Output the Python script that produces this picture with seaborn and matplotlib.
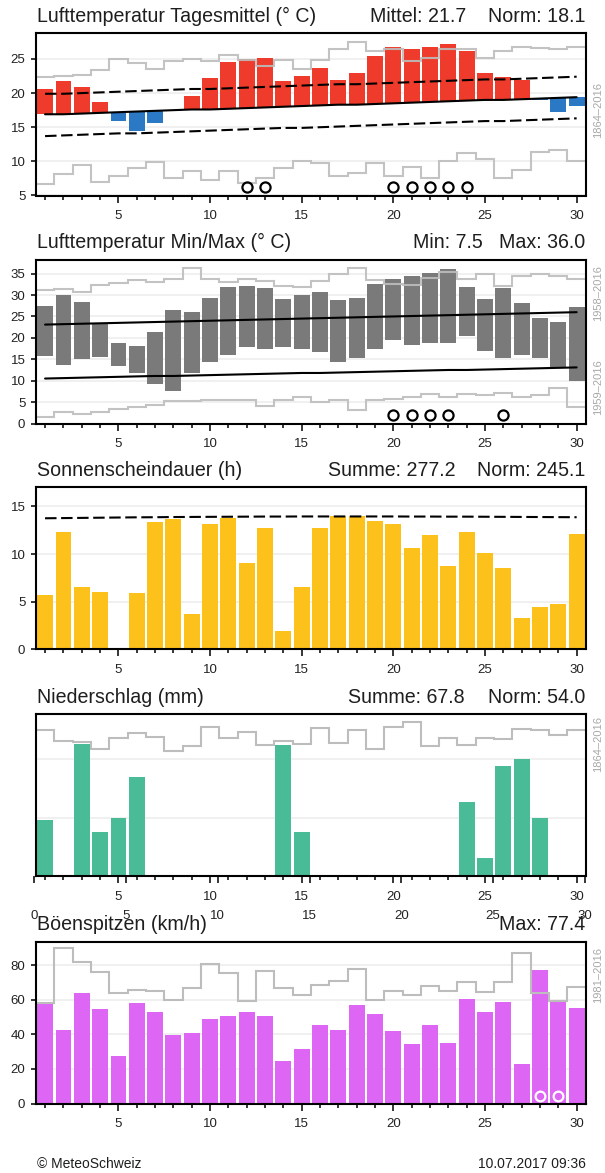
import numpy as np
import matplotlib.pyplot as plt
import seaborn as sns

# ------------------------------
# Data (June, daily values)
# ------------------------------
days = list(range(1, 31))

# Lufttemperatur Tagesmittel
t_mean = [20.6, 21.7, 20.9, 18.7, 15.9, 14.5, 15.6, 17.35, 19.5, 22.2,
          24.6, 25.0, 25.1, 21.8, 22.5, 23.7, 21.9, 22.9, 25.4, 26.7,
          26.5, 26.7, 27.2, 26.2, 22.9, 22.4, 21.9, 19.0, 17.3, 18.1]
t_norm = [16.9, 16.9, 17.0, 17.1, 17.2, 17.3, 17.4, 17.5, 17.6, 17.6,
          17.7, 17.8, 17.9, 18.0, 18.1, 18.2, 18.3, 18.3, 18.4, 18.5,
          18.6, 18.7, 18.8, 18.9, 19.0, 19.0, 19.1, 19.2, 19.3, 19.4]
t_norm_hi = [19.9, 19.9, 20.0, 20.1, 20.2, 20.3, 20.4, 20.5, 20.6, 20.6,
             20.7, 20.8, 20.9, 21.0, 21.1, 21.2, 21.3, 21.3, 21.4, 21.5,
             21.6, 21.7, 21.8, 21.9, 22.0, 22.0, 22.1, 22.2, 22.3, 22.4]
t_norm_lo = [13.7, 13.8, 13.9, 14.0, 14.1, 14.1, 14.2, 14.3, 14.4, 14.5,
             14.6, 14.7, 14.8, 14.9, 14.9, 15.0, 15.1, 15.2, 15.3, 15.4,
             15.5, 15.6, 15.7, 15.8, 15.9, 15.9, 16.0, 16.1, 16.2, 16.3]
t_rec_hi = [22.4, 22.5, 22.7, 23.4, 25.0, 24.4, 23.6, 24.7, 25.0, 24.7,
            25.6, 24.9, 24.0, 24.9, 23.6, 24.9, 26.4, 27.5, 26.1, 26.4,
            24.7, 25.1, 26.5, 26.4, 25.2, 26.2, 26.8, 26.6, 26.4, 26.7]
t_rec_lo = [6.7, 8.2, 9.4, 7.0, 7.9, 9.0, 9.9, 7.5, 8.6, 7.3,
            8.6, 6.9, 7.5, 9.1, 10.0, 9.8, 7.8, 8.3, 9.8, 7.9,
            9.2, 7.6, 10.0, 11.2, 10.3, 7.6, 8.7, 11.4, 11.6, 10.0]
t_mark_days = [12, 13, 20, 21, 22, 23, 24]

# Lufttemperatur Min/Max
t_max = [27.4, 29.9, 28.4, 23.3, 18.7, 18.1, 21.4, 26.4, 26.0, 29.4,
         31.8, 32.0, 31.7, 29.0, 30.1, 30.6, 28.9, 29.3, 32.6, 33.8,
         34.4, 35.1, 36.0, 31.8, 29.0, 31.6, 28.1, 24.6, 23.7, 27.1]
t_min = [15.8, 13.6, 15.0, 15.5, 13.4, 11.7, 9.3, 7.5, 11.7, 14.4,
         15.9, 17.9, 17.3, 17.9, 17.5, 16.7, 14.4, 15.2, 17.5, 19.4,
         18.4, 18.7, 18.9, 20.4, 17.0, 15.2, 16.1, 15.2, 13.2, 9.9]
tmax_norm = [23.1, 23.2, 23.3, 23.4, 23.5, 23.6, 23.7, 23.8, 23.9, 24.0,
             24.1, 24.2, 24.3, 24.4, 24.5, 24.6, 24.7, 24.8, 24.9, 25.0,
             25.1, 25.2, 25.3, 25.4, 25.5, 25.6, 25.7, 25.8, 25.9, 26.0]
tmin_norm = [10.5, 10.6, 10.7, 10.8, 10.9, 11.0, 11.1, 11.1, 11.2, 11.3,
             11.4, 11.5, 11.6, 11.7, 11.8, 11.8, 11.9, 12.0, 12.1, 12.2,
             12.3, 12.4, 12.5, 12.5, 12.6, 12.7, 12.8, 12.9, 13.0, 13.1]
tmax_rec = [31.1, 31.3, 30.6, 32.4, 32.9, 33.4, 33.0, 33.8, 36.3, 33.7,
            33.0, 33.8, 33.2, 32.1, 31.8, 33.3, 35.0, 36.3, 33.4, 32.5,
            32.4, 33.9, 35.3, 33.8, 35.0, 32.1, 34.4, 34.8, 34.4, 33.8]
tmin_rec = [1.5, 2.7, 2.3, 2.7, 3.5, 3.9, 4.3, 5.2, 5.2, 5.6,
            5.4, 5.6, 4.0, 5.4, 6.1, 5.0, 5.4, 3.1, 5.4, 5.8,
            6.2, 7.0, 6.2, 7.0, 6.6, 7.1, 6.2, 6.6, 8.2, 3.9]
mm_mark_days = [20, 21, 22, 23, 26]

# Sonnenscheindauer
sun = [5.7, 12.3, 6.5, 6.0, 0.0, 5.9, 13.4, 13.7, 3.7, 13.2,
       13.8, 9.1, 12.7, 1.9, 6.5, 12.7, 14.0, 14.0, 13.5, 13.2,
       10.6, 12.0, 8.7, 12.3, 10.1, 8.5, 3.3, 4.4, 4.8, 12.1]
sun_norm = [13.75, 13.77, 13.79, 13.81, 13.83, 13.85, 13.86, 13.88, 13.89, 13.90,
            13.91, 13.92, 13.93, 13.93, 13.94, 13.94, 13.94, 13.94, 13.94, 13.94,
            13.93, 13.93, 13.92, 13.92, 13.91, 13.90, 13.89, 13.88, 13.87, 13.86]

# Niederschlag
precip = [4.0, 0.0, 9.5, 3.2, 4.2, 7.1, 0.0, 0.0, 0.0, 0.0,
          0.0, 0.0, 0.0, 9.4, 3.2, 0.0, 0.0, 0.0, 0.0, 0.0,
          0.0, 0.0, 0.0, 5.3, 1.3, 7.9, 8.4, 4.2, 0.0, 0.0]
precip_rec = [10.45, 9.7, 9.65, 9.1, 9.9, 10.25, 10.0, 9.0, 9.3, 10.7,
              9.9, 10.3, 9.4, 9.7, 9.5, 10.65, 9.55, 10.45, 9.1, 10.7,
              11.05, 9.3, 9.9, 9.4, 9.9, 9.8, 10.55, 10.5, 10.15, 10.5]

# Boeenspitzen
gust = [57.7, 42.7, 64.0, 54.4, 27.3, 58.3, 52.7, 39.8, 40.8, 48.6,
        50.8, 52.9, 50.4, 24.8, 31.3, 45.2, 42.3, 57.1, 51.5, 41.9,
        34.6, 45.6, 35.2, 60.6, 53.1, 58.8, 23.1, 77.4, 58.6, 55.4]
gust_rec = [58.3, 90.0, 81.7, 76.0, 64.0, 65.4, 64.8, 59.6, 66.7, 80.8,
            75.6, 59.0, 76.5, 66.9, 62.5, 68.7, 70.8, 77.9, 60.0, 65.0,
            62.5, 67.7, 64.8, 70.2, 64.4, 70.2, 86.9, 64.0, 59.0, 67.3]
gust_mark_days = [28, 29]

# ------------------------------
# Style
# ------------------------------
sns.set_theme(style="white")
plt.rcParams["font.family"] = ["Liberation Sans", "DejaVu Sans"]
plt.rcParams["axes.edgecolor"] = "black"
plt.rcParams["text.color"] = "#1e1e1e"
plt.rcParams["xtick.color"] = "black"
plt.rcParams["ytick.color"] = "black"
plt.rcParams["xtick.labelcolor"] = "#222222"
plt.rcParams["ytick.labelcolor"] = "#222222"

RED, BLUE = "#EE3B2B", "#2B78C5"
GREY_BAR = "#7A7A7A"
YELLOW, GREEN, MAGENTA = "#FDC11C", "#4ABB97", "#DE66F4"
STEP = "#BDBDBD"
NOTE = "#A8A8A8"
DASH = (0, (5.5, 2.2))

W, H = 605, 1173
fig = plt.figure(figsize=(W / 100, H / 100), dpi=100)

LEFT, RIGHT = 35.9, 585.8
tops = [33.0, 259.5, 487.3, 714.3, 941.7]
bottoms = [195.5, 423.5, 649.3, 876.2, 1103.5]

edges = [d - 0.5 for d in days] + [days[-1] + 0.5]
major = [d for d in days if d % 5 == 0]


def make_ax(i):
    return fig.add_axes([LEFT / W, 1 - bottoms[i] / H, (RIGHT - LEFT) / W,
                         (bottoms[i] - tops[i]) / H])


def style(ax, ylim, yticks, ylabels=True):
    ax.set_xlim(0.5, 30.5)
    ax.set_ylim(*ylim)
    ax.set_xticks(major)
    ax.set_xticks(days, minor=True)
    ax.set_xticklabels([str(m) for m in major])
    ax.set_yticks(yticks)
    ax.set_xlabel("")
    ax.set_ylabel("")
    ax.tick_params(axis="x", which="major", bottom=True, length=5, width=1.1,
                   pad=5.5, labelsize=9.5, direction="out")
    ax.tick_params(axis="x", which="minor", bottom=True, length=2.9, width=1.1,
                   direction="out")
    if ylabels:
        ax.tick_params(axis="y", left=True, length=3.6, width=1.1, pad=4.0,
                       labelsize=9.5, direction="out")
    else:
        ax.tick_params(axis="y", left=False, labelleft=False)
    ax.yaxis.grid(True, color="#EDEDED", lw=1.2)
    ax.xaxis.grid(False)
    ax.set_axisbelow(True)
    for s in ax.spines.values():
        s.set_linewidth(1.5)
        s.set_color("black")
        s.set_zorder(10)


def header(i, title, right):
    y = 1 - (tops[i] - 17) / H
    fig.text(36.7 / W, y, title, fontsize=14.1, ha="left", va="center")
    for x, s in right:
        fig.text(x / W, y, s, fontsize=14.1, ha="right", va="center")


def note(y, s):
    fig.text(598.5 / W, 1 - y / H, s, fontsize=8, color=NOTE, rotation=90,
             ha="center", va="center")


# ------------------------------
# 1: Tagesmittel
# ------------------------------
ax1 = make_ax(0)
diff = [m - n for m, n in zip(t_mean, t_norm)]
cols = [RED if d >= 0 else BLUE for d in diff]
ax1.bar(days, diff, bottom=t_norm, width=0.86, color=cols, lw=0, zorder=2)
ax1.stairs(t_rec_hi, edges, color=STEP, lw=1.5, baseline=None, zorder=3, alpha=0.9)
ax1.stairs(t_rec_lo, edges, color=STEP, lw=1.5, baseline=None, zorder=3, alpha=0.9)
sns.lineplot(x=days, y=t_norm, color="black", lw=1.5, ax=ax1, zorder=4)
sns.lineplot(x=days, y=t_norm_hi, color="black", lw=1.5, ls=DASH, ax=ax1, zorder=4)
sns.lineplot(x=days, y=t_norm_lo, color="black", lw=1.5, ls=DASH, ax=ax1, zorder=4)
ax1.plot(t_mark_days, [6.3] * len(t_mark_days), "o", mfc="none", mec="black",
         ms=7.3, mew=1.6, zorder=5, clip_on=False)
style(ax1, (5, 28.8), [5, 10, 15, 20, 25])
header(0, "Lufttemperatur Tagesmittel (° C)",
       [(466, "Mittel: 21.7"), (585.5, "Norm: 18.1")])
note(110, "1864–2016")

# ------------------------------
# 2: Min/Max
# ------------------------------
ax2 = make_ax(1)
span = [a - b for a, b in zip(t_max, t_min)]
ax2.bar(days, span, bottom=t_min, width=0.86, color=GREY_BAR, lw=0, zorder=2)
ax2.stairs(tmax_rec, edges, color=STEP, lw=1.5, baseline=None, zorder=3, alpha=0.9)
ax2.stairs(tmin_rec, edges, color=STEP, lw=1.5, baseline=None, zorder=3, alpha=0.9)
sns.lineplot(x=days, y=tmax_norm, color="black", lw=1.5, ax=ax2, zorder=4)
sns.lineplot(x=days, y=tmin_norm, color="black", lw=1.5, ax=ax2, zorder=4)
ax2.plot(mm_mark_days, [1.95] * len(mm_mark_days), "o", mfc="none", mec="black",
         ms=7.3, mew=1.6, zorder=5)
style(ax2, (0, 38.3), [0, 5, 10, 15, 20, 25, 30, 35])
header(1, "Lufttemperatur Min/Max (° C)",
       [(483, "Min: 7.5"), (585.5, "Max: 36.0")])
note(293, "1958–2016")
note(387, "1959–2016")

# ------------------------------
# 3: Sonnenscheindauer
# ------------------------------
ax3 = make_ax(2)
sns.barplot(x=days, y=sun, native_scale=True, color=YELLOW, saturation=1,
            width=0.86, errorbar=None, linewidth=0, ax=ax3, zorder=2)
sns.lineplot(x=days, y=sun_norm, color="black", lw=1.5, ls=DASH, ax=ax3, zorder=4)
style(ax3, (0, 17), [0, 5, 10, 15])
header(2, "Sonnenscheindauer (h)",
       [(456, "Summe: 277.2"), (585.5, "Norm: 245.1")])

# ------------------------------
# 4: Niederschlag
# ------------------------------
ax4 = make_ax(3)
sns.barplot(x=days, y=precip, native_scale=True, color=GREEN, saturation=1,
            width=0.86, errorbar=None, linewidth=0, ax=ax4, zorder=2)
ax4.stairs(precip_rec, edges, color=STEP, lw=1.5, baseline=None, zorder=3)
style(ax4, (0, 11.6), [4.2, 8.4], ylabels=False)
header(3, "Niederschlag (mm)",
       [(465, "Summe: 67.8"), (585.5, "Norm: 54.0")])
note(744, "1864–2016")

# second (shifted) day axis under the precipitation panel
ov = fig.add_axes([34.3 / W, 1 - bottoms[3] / H, 550.5 / W, 0.0001])
ov.set_xlim(0, 30)
ov.set_xticks(list(range(0, 31, 5)))
ov.set_yticks([])
ov.patch.set_visible(False)
for s in ov.spines.values():
    s.set_visible(False)
ov.tick_params(axis="x", length=5, width=1.1, pad=19.0, labelsize=9.5,
               direction="out", bottom=True)

# ------------------------------
# 5: Boeenspitzen
# ------------------------------
ax5 = make_ax(4)
sns.barplot(x=days, y=gust, native_scale=True, color=MAGENTA, saturation=1,
            width=0.86, errorbar=None, linewidth=0, ax=ax5, zorder=2)
ax5.stairs(gust_rec, edges, color=STEP, lw=1.5, baseline=None, zorder=3)
ax5.plot(gust_mark_days, [4.2] * len(gust_mark_days), "o", mfc="none", mec="white",
         ms=7.0, mew=1.6, zorder=5)
style(ax5, (0, 93.5), [0, 20, 40, 60, 80])
header(4, "Böenspitzen (km/h)", [(585.5, "Max: 77.4")])
note(975, "1981–2016")

fig.text(36.7 / W, 1 - 1164 / H, "© MeteoSchweiz", fontsize=10, ha="left", va="center")
fig.text(585.5 / W, 1 - 1164 / H, "10.07.2017 09:36", fontsize=10, ha="right", va="center")

fig.savefig("out.png", dpi=100)
